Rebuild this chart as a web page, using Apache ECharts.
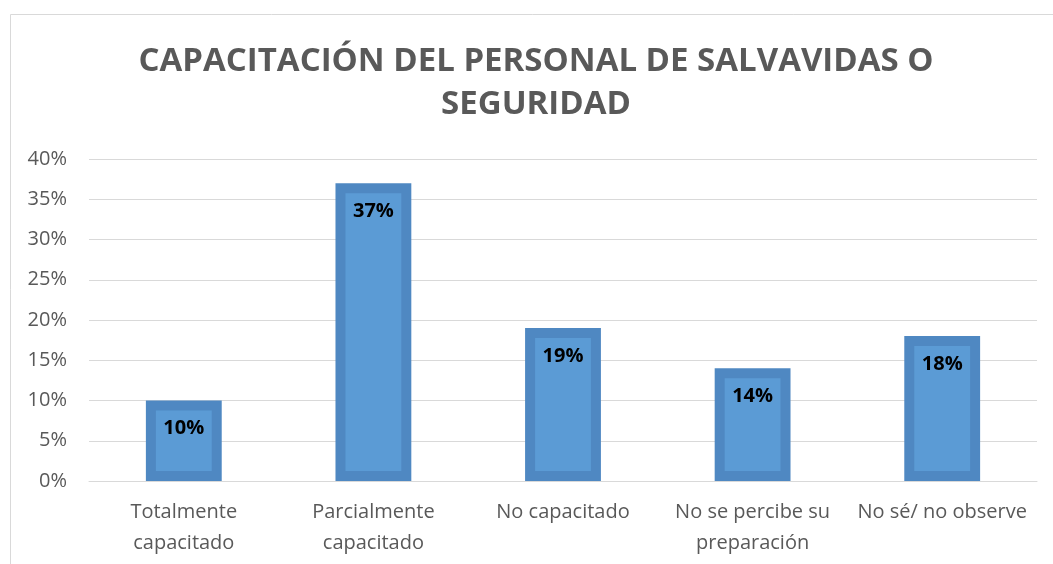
<!DOCTYPE html>
<html>
<head>
<meta charset="utf-8">
<script src="https://cdn.jsdelivr.net/npm/echarts@6/dist/echarts.min.js"></script>
<style>
  html, body { margin: 0; padding: 0; background: #fff; }
  #chart { width: 1053px; height: 564px; }
</style>
</head>
<body>
<div id="chart"></div>
<script>
var titleText = 'CAPACITACIÓN DEL PERSONAL DE SALVAVIDAS O\nSEGURIDAD'
var categories = ['Totalmente\ncapacitado', 'Parcialmente\ncapacitado', 'No capacitado', 'No se percibe su\npreparación', 'No sé/ no observe']
var values = [10, 37, 19, 14, 18]
var yTicks = { min: 0, max: 40, interval: 5 }

var chart = echarts.init(document.getElementById('chart'))

chart.setOption({
  animation: false,
  graphic: [{
    type: 'rect',
    shape: { x: 10.5, y: 14.5, width: 1100, height: 600 },
    style: { fill: 'none', stroke: '#d9d9d9', lineWidth: 1 },
    silent: true
  }, {
    // title as a graphic so both lines center on the same x
    type: 'text',
    x: 536,
    y: 40,
    silent: true,
    style: {
      text: titleText,
      font: 'bold 33px "Open Sans"',
      lineHeight: 43,
      fill: '#595959',
      align: 'center',
      verticalAlign: 'top'
    }
  }],
  grid: { left: 89, right: 16, top: 159, bottom: 83 },
  xAxis: {
    type: 'category',
    data: categories,
    axisLine: { lineStyle: { color: '#d9d9d9' } },
    axisTick: { show: false },
    axisLabel: {
      interval: 0,
      margin: 16,
      fontFamily: 'Open Sans',
      fontSize: 20,
      color: '#595959',
      lineHeight: 31
    }
  },
  yAxis: {
    type: 'value',
    min: yTicks.min,
    max: yTicks.max,
    interval: yTicks.interval,
    axisLine: { show: false },
    axisTick: { show: false },
    splitLine: { lineStyle: { color: '#d9d9d9' } },
    axisLabel: {
      formatter: '{value}%',
      margin: 22,
      fontFamily: 'Open Sans',
      fontSize: 20,
      color: '#595959'
    }
  },
  series: [{
    type: 'custom',
    data: values.map(function (v, i) { return [i, v] }),
    encode: { x: 0, y: 1 },
    renderItem: function (params, api) {
      var top = api.coord([api.value(0), api.value(1)])
      var base = api.coord([api.value(0), 0])
      var bw = api.size([1, 0])[0] * 0.4
      var x = top[0] - bw / 2
      var h = base[1] - top[1]
      var inset = 10
      return {
        type: 'group',
        children: [{
          type: 'rect',
          shape: { x: x, y: top[1], width: bw, height: h },
          style: { fill: '#4f88c2' }
        }, {
          type: 'rect',
          shape: { x: x + inset, y: top[1] + inset, width: bw - inset * 2, height: Math.max(h - inset * 2, 0) },
          style: { fill: '#5b9bd5' }
        }, {
          type: 'text',
          style: {
            x: top[0],
            y: top[1] + 28,
            text: api.value(1) + '%',
            fill: '#000',
            font: 'bold 20px "Open Sans"',
            align: 'center',
            verticalAlign: 'middle'
          }
        }]
      }
    }
  }]
})
</script>
</body>
</html>
